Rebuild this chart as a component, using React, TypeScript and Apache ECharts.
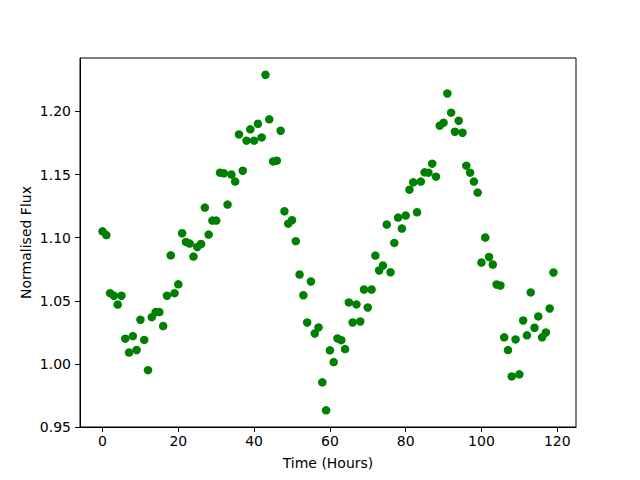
import React, { useEffect, useRef } from "react";
import * as echarts from "echarts";

const hours: number[] = Array.from({ length: 120 }, (_, i) => i);

const flux: number[] = [
  1.105, 1.102, 1.056, 1.054, 1.047, 1.054, 1.020, 1.009, 1.022, 1.011,
  1.035, 1.019, 0.995, 1.037, 1.041, 1.041, 1.030, 1.054, 1.086, 1.056,
  1.063, 1.1035, 1.0966, 1.0953, 1.085, 1.0926, 1.095, 1.1238, 1.1024, 1.1135,
  1.1135, 1.1515, 1.151, 1.1262, 1.150, 1.1444, 1.1818, 1.153, 1.1768, 1.1858,
  1.1768, 1.1902, 1.1794, 1.229, 1.1937, 1.1604, 1.161, 1.1847, 1.1209, 1.1111,
  1.1138, 1.0972, 1.0708, 1.0544, 1.0328, 1.0653, 1.0241, 1.0289, 0.9854, 0.9632,
  1.0107, 1.0014, 1.0202, 1.0188, 1.0117, 1.0487, 1.0328, 1.0471, 1.0336, 1.0589,
  1.0447, 1.0589, 1.0858, 1.074, 1.0779, 1.1104, 1.0726, 1.0958, 1.1159, 1.1072,
  1.1175, 1.138, 1.1438, 1.1201, 1.1444, 1.1517, 1.1515, 1.1586, 1.1483, 1.1887,
  1.1911, 1.2142, 1.199, 1.1839, 1.1926, 1.1831, 1.157, 1.1515, 1.1444, 1.1357,
  1.0803, 1.1001, 1.0847, 1.0787, 1.0629, 1.0621, 1.021, 1.0109, 0.9901, 1.0194,
  0.9917, 1.0344, 1.0226, 1.0566, 1.0286, 1.0376, 1.021, 1.0249, 1.0439, 1.0724,
];

const xTicks: number[] = [0, 20, 40, 60, 80, 100, 120];
const yTicks: number[] = [0.95, 1.0, 1.05, 1.1, 1.15, 1.2];

export default function App() {
  const ref = useRef<HTMLDivElement>(null);
  useEffect(() => {
    if (!ref.current) return;
    const chart = echarts.init(ref.current, null, { renderer: "svg" });
    const font = "DejaVu Sans";
    chart.setOption({
      animation: false,
      backgroundColor: "#ffffff",
      grid: {
        left: 80,
        top: 58,
        width: 496,
        height: 369,
        show: true,
        borderColor: "#000",
        borderWidth: 1,
        backgroundColor: "transparent",
      },
      xAxis: {
        type: "value",
        min: -5.95,
        max: 124.95,
        name: "Time (Hours)",
        nameLocation: "middle",
        nameGap: 29,
        nameMoveOverlap: false,
        nameTextStyle: { fontFamily: font, fontSize: 14, color: "#000" },
        axisLine: { show: true, onZero: false, lineStyle: { color: "#000", width: 1 } },
        axisTick: {
          show: true,
          length: 5,
          lineStyle: { color: "#000" },
          customValues: xTicks,
        },
        axisLabel: {
          fontFamily: font,
          fontSize: 14,
          color: "#000",
          margin: 7,
          customValues: xTicks,
          formatter: (v: number) => String(v),
        },
        splitLine: { show: false },
      },
      yAxis: {
        type: "value",
        min: 0.95,
        max: 1.2423,
        name: "Normalised Flux",
        nameLocation: "middle",
        nameGap: 47,
        nameMoveOverlap: false,
        nameTextStyle: { fontFamily: font, fontSize: 14, color: "#000" },
        axisLine: { show: true, onZero: false, lineStyle: { color: "#000", width: 1 } },
        axisTick: {
          show: true,
          length: 5,
          lineStyle: { color: "#000" },
          customValues: yTicks,
        },
        axisLabel: {
          fontFamily: font,
          fontSize: 14,
          color: "#000",
          margin: 9,
          customValues: yTicks,
          formatter: (v: number) => v.toFixed(2),
        },
        splitLine: { show: false },
      },
      series: [
        {
          type: "scatter",
          data: hours.map((h, i) => [h, flux[i]]),
          symbol: "circle",
          symbolSize: 8.5,
          itemStyle: { color: "#008000", opacity: 1 },
        },
      ],
    });
    return () => chart.dispose();
  }, []);
  return (
    <div
      ref={ref}
      style={{ position: "fixed", left: 0, top: 0, width: 640, height: 480 }}
    />
  );
}
